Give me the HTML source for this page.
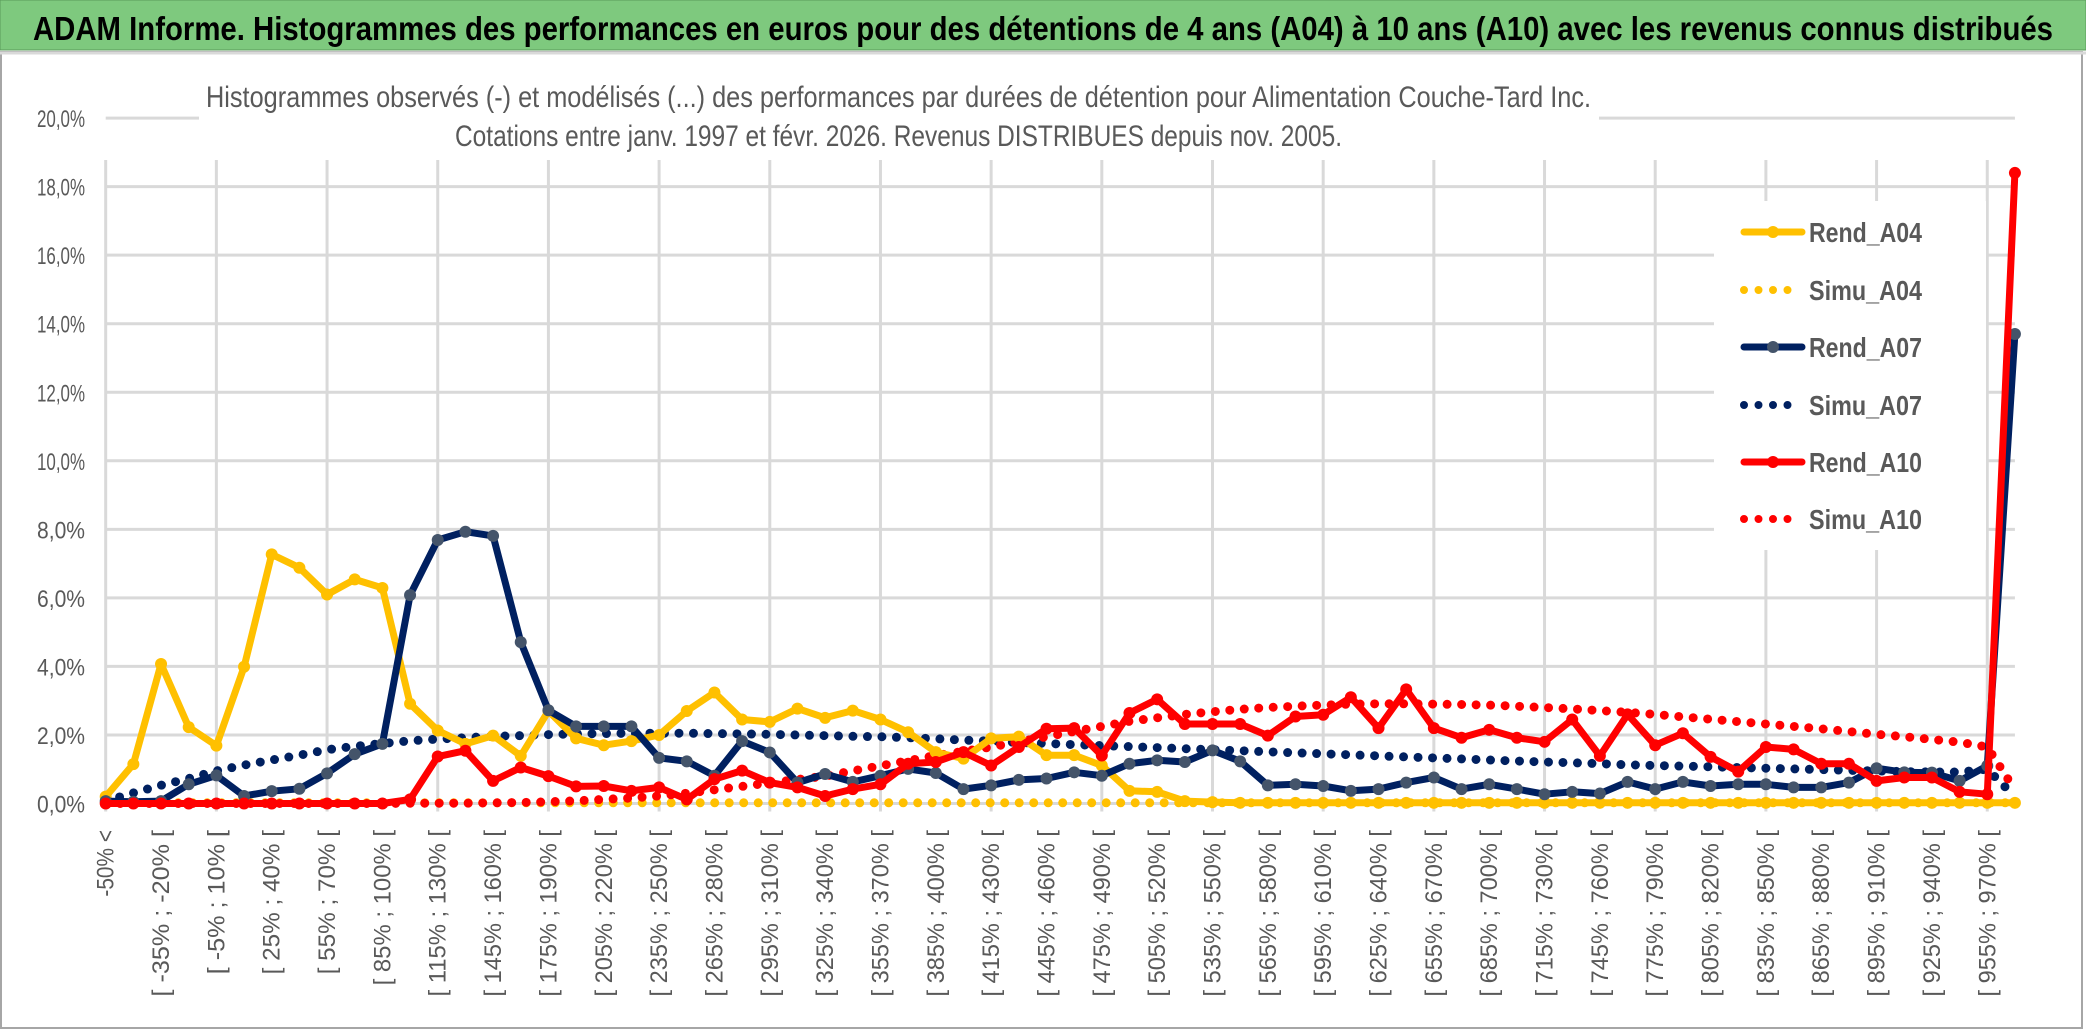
<!DOCTYPE html>
<html><head><meta charset="utf-8">
<style>
html,body{margin:0;padding:0;background:#fff;}
svg{display:block;font-family:"Liberation Sans",sans-serif;}
</style></head>
<body>
<svg id="chart" width="2086" height="1031" viewBox="0 0 2086 1031" xmlns="http://www.w3.org/2000/svg">
<rect x="0" y="0" width="2086" height="1031" fill="#ffffff"/>
<rect x="1" y="52" width="2081" height="976" fill="#fff" stroke="#a6a6a6" stroke-width="2"/>
<rect x="0" y="0" width="2086" height="50" fill="#7ec97e" stroke="#5a9a5a" stroke-width="1"/>
<line x1="0" y1="53" x2="2086" y2="53" stroke="#d9d9d9" stroke-width="3"/>
<text x="33" y="40" font-size="33" font-weight="bold" fill="#000" textLength="2020" lengthAdjust="spacingAndGlyphs">ADAM Informe. Histogrammes des performances en euros pour des détentions de 4 ans (A04) à 10 ans (A10) avec les revenus connus distribués</text>
<g id="grid"></g>
<rect x="199" y="62" width="1400" height="97" fill="#fff"/>
<rect x="1714" y="201" width="272" height="349" fill="#fff"/>
<text x="206" y="107" font-size="30" fill="#595959" textLength="1385" lengthAdjust="spacingAndGlyphs">Histogrammes observés (-) et modélisés (...) des performances par durées de détention pour Alimentation Couche-Tard Inc.</text>
<text x="455" y="146" font-size="30" fill="#595959" textLength="887" lengthAdjust="spacingAndGlyphs">Cotations entre janv. 1997 et févr. 2026. Revenus DISTRIBUES depuis nov. 2005.</text>
<g id="yticks"></g>
<g id="xticks"></g>
<g id="series"></g>
<g id="legend"></g>
</svg>
<script>
const yTicks = [0, 2, 4, 6, 8, 10, 12, 14, 16, 18, 20];
const binStarts = [];
for (let a = -50; a <= 955; a += 15) binStarts.push(a);
const categories = ["-50% <"].concat(binStarts.map(a => "[ " + a + "% ; " + (a + 15) + "% [")).concat(["970% <"]);

const rendA04 = [0.2,1.15,4.07,2.23,1.69,3.99,7.27,6.88,6.1,6.54,6.29,2.91,2.13,1.74,1.98,1.39,2.7,1.9,1.7,1.82,2.0,2.7,3.24,2.45,2.38,2.77,2.5,2.71,2.45,2.08,1.5,1.31,1.9,1.95,1.41,1.41,1.11,0.37,0.34,0.07,0.04,0.02,0.02,0.02,0.02,0.02,0.02,0.02,0.02,0.02,0.02,0.02,0.02,0.02,0.02,0.02,0.02,0.02,0.02,0.02,0.02,0.02,0.02,0.02,0.02,0.02,0.02,0.02,0.02,0.02];
const simuA04 = [0.02,0.02,0.02,0.02,0.02,0.02,0.02,0.02,0.02,0.02,0.02,0.02,0.02,0.02,0.02,0.02,0.02,0.02,0.02,0.02,0.02,0.02,0.02,0.02,0.02,0.02,0.02,0.02,0.02,0.02,0.02,0.02,0.02,0.02,0.02,0.02,0.02,0.02,0.02,0.02,0.02,0.02,0.02,0.02,0.02,0.02,0.02,0.02,0.02,0.02,0.02,0.02,0.02,0.02,0.02,0.02,0.02,0.02,0.02,0.02,0.02,0.02,0.02,0.02,0.02,0.02,0.02,0.02,0.02,0.02];
const rendA07 = [0.07,0.05,0.07,0.56,0.82,0.22,0.36,0.43,0.88,1.44,1.74,6.08,7.69,7.93,7.81,4.71,2.72,2.25,2.25,2.25,1.33,1.23,0.81,1.82,1.49,0.61,0.86,0.63,0.81,1.01,0.89,0.42,0.53,0.69,0.73,0.91,0.81,1.16,1.26,1.21,1.55,1.23,0.53,0.56,0.51,0.37,0.42,0.61,0.76,0.42,0.56,0.42,0.27,0.34,0.29,0.63,0.42,0.63,0.51,0.56,0.56,0.47,0.47,0.61,1.03,0.91,0.9,0.66,1.1,13.7];
const simuA07 = [0.07,0.31,0.53,0.73,0.95,1.12,1.27,1.41,1.57,1.67,1.75,1.83,1.88,1.92,1.96,1.98,2.01,2.03,2.04,2.05,2.05,2.05,2.04,2.03,2.02,2.0,1.98,1.96,1.95,1.92,1.89,1.85,1.82,1.78,1.75,1.72,1.69,1.66,1.63,1.6,1.57,1.54,1.51,1.48,1.45,1.42,1.39,1.36,1.33,1.3,1.27,1.24,1.21,1.19,1.16,1.13,1.11,1.09,1.07,1.05,1.03,1.01,0.99,0.97,0.95,0.93,0.92,0.92,1.0,0.2];
const rendA10 = [0,0,0,0,0,0,0,0,0,0,0,0.12,1.37,1.54,0.66,1.05,0.8,0.5,0.51,0.37,0.47,0.12,0.71,0.96,0.61,0.47,0.22,0.42,0.56,1.16,1.21,1.5,1.11,1.65,2.18,2.2,1.4,2.64,3.04,2.32,2.32,2.32,1.98,2.54,2.59,3.1,2.2,3.33,2.2,1.92,2.15,1.92,1.8,2.45,1.39,2.6,1.7,2.05,1.36,0.93,1.65,1.58,1.16,1.16,0.66,0.76,0.76,0.34,0.27,18.4];
const simuA10 = [0,0,0,0,0,0,0,0,0,0,0,0.01,0.01,0.01,0.02,0.03,0.05,0.08,0.12,0.16,0.22,0.3,0.4,0.5,0.6,0.7,0.8,0.95,1.1,1.25,1.4,1.52,1.65,1.8,1.95,2.1,2.25,2.4,2.5,2.6,2.68,2.75,2.8,2.84,2.87,2.9,2.91,2.91,2.9,2.89,2.87,2.84,2.8,2.76,2.71,2.66,2.6,2.53,2.46,2.39,2.32,2.25,2.18,2.1,2.02,1.95,1.87,1.79,1.65,0.4];

const X0 = 105.7, DX = 27.67, Y0 = 803.5, PXPCT = 34.27;
function xs(i){ return X0 + i * DX; }
function ys(v){ return Y0 - v * PXPCT; }
const NS = "http://www.w3.org/2000/svg";
function mk(tag, attrs, parent){
  const e = document.createElementNS(NS, tag);
  for (const k in attrs) e.setAttribute(k, attrs[k]);
  parent.appendChild(e);
  return e;
}
const grid = document.getElementById("grid");
const n = categories.length;
yTicks.forEach(t => {
  const l = mk("line", {x1: X0, x2: xs(n - 1), y1: ys(t), y2: ys(t), stroke: "#d9d9d9", "stroke-width": 3}, grid);
  
  
});
for (let i = 0; i < n; i += 4) {
  const l = mk("line", {x1: xs(i), x2: xs(i), y1: 160, y2: Y0 + 8, stroke: "#d9d9d9", "stroke-width": 3}, grid);
  
  
}
const yt = document.getElementById("yticks");
yTicks.forEach(t => {
  const tx = mk("text", {x: 85, y: ys(t) + 9, "font-size": 24, fill: "#595959", "text-anchor": "end", textLength: 48, lengthAdjust: "spacingAndGlyphs"}, yt);
  tx.textContent = t.toFixed(1).replace(".", ",") + "%";
  
  
});
const xt = document.getElementById("xticks");
for (let i = 0; i < n - 1; i += 2) {
  const x = xs(i) + 8, y = 830;
  const label = categories[i];
  const tx = mk("text", {x: x, y: y, "font-size": 24, fill: "#595959", "text-anchor": "end", transform: "rotate(-90 " + x + " " + y + ")", textLength: label.length * 11.1, lengthAdjust: "spacingAndGlyphs"}, xt);
  tx.textContent = label;
  
  
}
const sg = document.getElementById("series");
function pts(arr){ return arr.map((v, i) => xs(i).toFixed(1) + "," + ys(v).toFixed(1)).join(" "); }
function dotted(arr, color, name){
  const p = mk("polyline", {points: pts(arr), fill: "none", stroke: color, "stroke-width": 9, "stroke-linecap": "round", "stroke-dasharray": "0 14.5"}, sg);
  
  
}
function solid(arr, color, marker, name){
  const p = mk("polyline", {points: pts(arr), fill: "none", stroke: color, "stroke-width": 7, "stroke-linejoin": "round"}, sg);
  
  
  arr.forEach((v, i) => {
    const c = mk("circle", {cx: xs(i), cy: ys(v), r: 6, fill: marker}, sg);
    
    
  });
}
dotted(simuA04, "#ffc000", "simu-a04-line");
dotted(simuA07, "#002060", "simu-a07-line");
dotted(simuA10, "#ff0000", "simu-a10-line");
solid(rendA04, "#ffc000", "#ffc000", "rend-a04-line");
solid(rendA07, "#002060", "#44546a", "rend-a07-line");
solid(rendA10, "#ff0000", "#ff0000", "rend-a10-line");

const lg = document.getElementById("legend");
const legendItems = [["Rend_A04", "#ffc000", "#ffc000", false], ["Simu_A04", "#ffc000", null, true], ["Rend_A07", "#002060", "#44546a", false], ["Simu_A07", "#002060", null, true], ["Rend_A10", "#ff0000", "#ff0000", false], ["Simu_A10", "#ff0000", null, true]];
const legendY = [232, 290, 347, 405, 462, 519];
legendItems.forEach((it, k) => {
  const y = legendY[k];
  const g = mk("g", {}, lg);
  
  
  if (it[3]) {
    mk("line", {x1: 1744, x2: 1800, y1: y, y2: y, stroke: it[1], "stroke-width": 8, "stroke-linecap": "round", "stroke-dasharray": "0 14.5"}, g);
  } else {
    mk("line", {x1: 1744, x2: 1802, y1: y, y2: y, stroke: it[1], "stroke-width": 7, "stroke-linecap": "round"}, g);
    mk("circle", {cx: 1773, cy: y, r: 6, fill: it[2]}, g);
  }
  const t = mk("text", {x: 1809, y: y + 10, "font-size": 28, "font-weight": "bold", fill: "#595959", textLength: 113, lengthAdjust: "spacingAndGlyphs"}, g);
  t.textContent = it[0];
});
</script>
</body></html>
